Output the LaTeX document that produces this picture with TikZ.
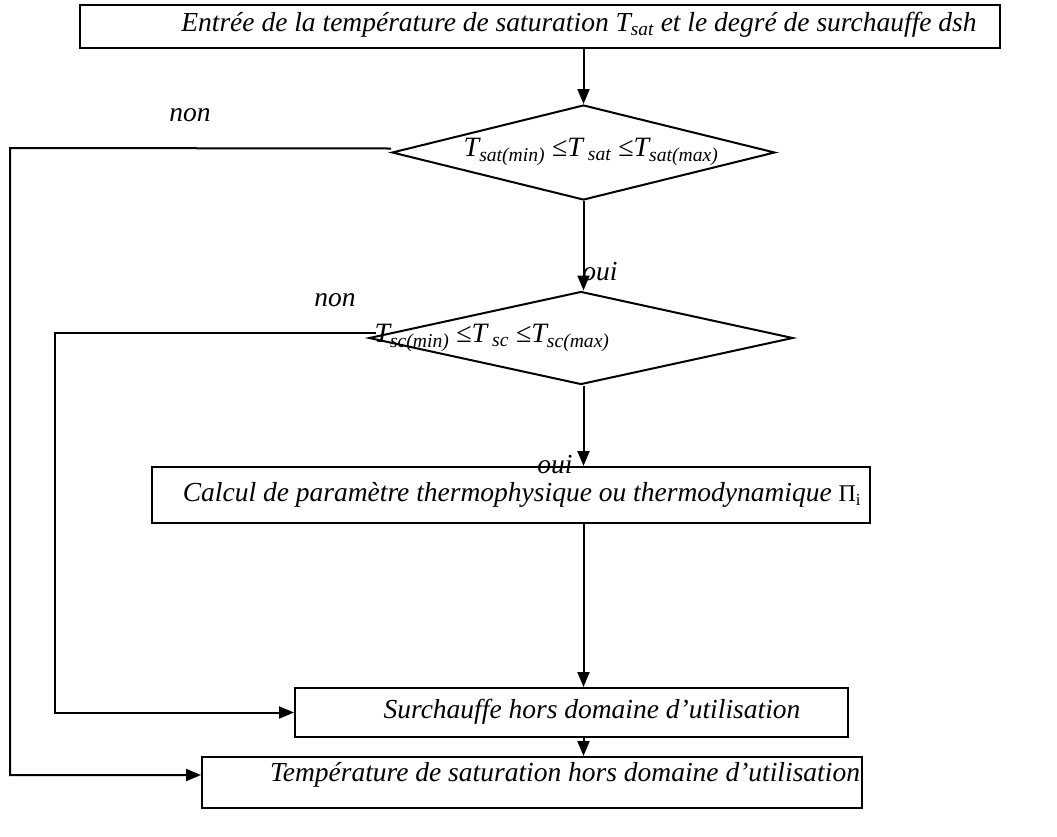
\documentclass[tikz,border=0pt]{standalone}
\usepackage{fontspec}
\setmainfont{Liberation Serif}
\usetikzlibrary{shapes.geometric,arrows.meta}
\begin{document}
\begin{tikzpicture}[x=1pt,y=-1pt,
 box/.style={draw,line width=2pt,rectangle,inner sep=0pt},
 dia/.style={draw,line width=2pt,diamond,inner sep=0pt},
 arr/.style={line width=2pt,-{Triangle[length=15pt,width=12pt]}},
 lbl/.style={font=\fontsize{27.5}{31}\selectfont\itshape,inner sep=0pt},
 cond/.style={font=\fontsize{28}{32}\selectfont\itshape,inner sep=0pt},
]
\useasboundingbox (0,0) rectangle (1057,836);
% boxes
\node[box,minimum width=920,minimum height=43] (b0) at (540,26.5) {};
\node[lbl] (t0) at (579,25) {Entrée de la température de saturation T\textsubscript{sat} et le degré de surchauffe dsh};
\node[dia,minimum width=383,minimum height=95] (d1) at (583.5,152.5) {};
\node[cond] (t1) at (591,152) {T\textsubscript{sat(min)} {\upshape≤}T\textsubscript{ sat} {\upshape≤}T\textsubscript{sat(max)}};
\node[dia,minimum width=424,minimum height=93] (d2) at (581,338) {};
\node[cond] (t2) at (492,338) {T\textsubscript{sc(min)} {\upshape≤}T\textsubscript{ sc} {\upshape≤}T\textsubscript{sc(max)}};
\node[box,minimum width=718,minimum height=56] (b3) at (511,495) {};
\node[lbl] (t3) at (522,495) {Calcul de paramètre thermophysique ou thermodynamique {\upshape\fontsize{24}{28}\selectfont Π\textsubscript{i}}};
\node[box,minimum width=553,minimum height=49] (b4) at (571.5,712.5) {};
\node[lbl] (t4) at (592,712) {Surchauffe hors domaine d’utilisation};
\node[box,minimum width=660,minimum height=51] (b5) at (532,782.5) {};
\node[lbl] (t5) at (565,775) {Température de saturation hors domaine d’utilisation};
% labels
\node[lbl] (n1) at (190,115) {non};
\node[lbl] (n2) at (335,300) {non};
\node[lbl] (o1) at (600,272) {oui};
\node[lbl] (o2) at (555,465) {oui};
% coordinates for loops
\coordinate (L1) at (10,148);
\coordinate (L2) at (55,333);
% main flow
\draw[arr] (d1.north |- b0.south) -- (d1.north);
\draw[arr] (d1.south) -- (d1.south |- d2.north);
\draw[arr] (d1.south |- d2.south) -- (d1.south |- b3.north);
\draw[arr] (d1.south |- b3.south) -- (d1.south |- b4.north);
\draw[arr] (d1.south |- b4.south) -- (d1.south |- b5.north);
% non loops
\draw[arr] ([yshift=4pt]d1.west) -- (L1) |- ([yshift=7.5pt]b5.west);
\draw[arr] ([xshift=8pt,yshift=5pt]d2.west) -- (L2) |- (b4.west);
\end{tikzpicture}
\end{document}
